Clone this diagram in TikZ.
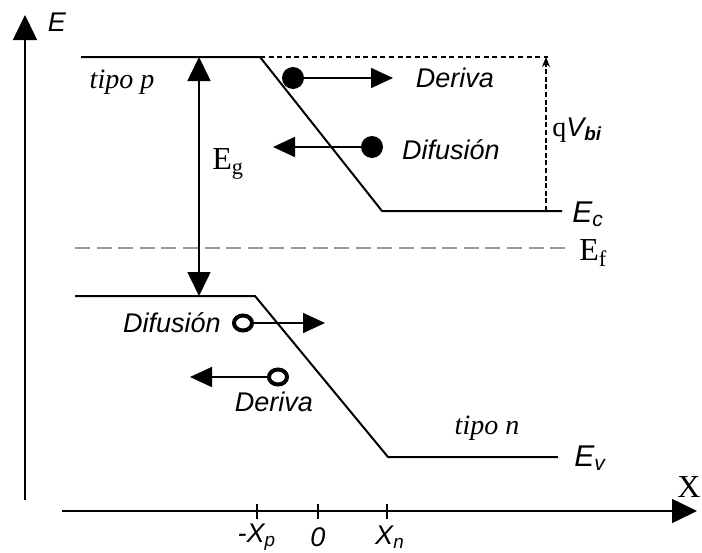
\documentclass[tikz,border=0pt]{standalone}
\usepackage{fontspec}
\setmainfont{Liberation Serif}
\setsansfont{Liberation Sans}
\usepackage{tikz}
\usetikzlibrary{arrows.meta}
\usetikzlibrary{shapes.geometric}
\newcommand{\sfi}[1]{\fontsize{13.5}{16}\selectfont\sffamily\itshape #1}
\newcommand{\rmn}[1]{\fontsize{14}{16}\selectfont\rmfamily #1}

\begin{document}
\begin{tikzpicture}[x=0.5pt,y=-0.5pt]
\tikzstyle{every node}=[inner sep=0pt]
\tikzstyle{band}=[line width=1pt,line join=round]
\tikzstyle{axis}=[line width=0.8pt,-{Triangle[length=12.5pt,width=12pt]}]
\tikzstyle{carrier}=[line width=0.8pt,-{Triangle[length=11pt,width=10pt]}]
\tikzstyle{electron}=[circle,fill=black,minimum size=11pt]
\tikzstyle{hole}=[ellipse,draw,line width=2pt,minimum width=9pt,minimum height=7.5pt]
\useasboundingbox (0,0) rectangle (702,552);
\coordinate (o) at (25,500);
\coordinate (etop) at (25,15);
\coordinate (xl) at (62,511);
\coordinate (xr) at (697,511);
\draw[axis] (o) -- (etop);
\draw[axis] (xl) -- (xr);
\node (elab) at (57,22) {\sfi{E}};
\node (xlab) at (689,487) {\fontsize{16}{18}\selectfont X};
\foreach \name/\x in {xp/257,zero/318,xn/387}{
  \coordinate (\name) at (\x,511);
  \draw[line width=0.8pt] ([yshift=-4pt]\name) -- ([yshift=3.5pt]\name);
}
\node at (257,537) {\sfi{-X\textsubscript{p}}};
\node at (318,537) {\sfi{0}};
\node at (390,537) {\sfi{X\textsubscript{n}}};
\coordinate (c0) at (81,57);
\coordinate (c1) at (260,57);
\coordinate (c2) at (382,211);
\coordinate (c3) at (562,211);
\draw[band] (c0) -- (c1) -- (c2) -- (c3);
\coordinate (v0) at (75,296);
\coordinate (v1) at (255,296);
\coordinate (v2) at (388,457);
\coordinate (v3) at (558,457);
\draw[band] (v0) -- (v1) -- (v2) -- (v3);
\coordinate (f0) at (75,248);
\coordinate (f1) at (565,248);
\draw[gray!80,line width=1.3pt,dash pattern=on 7.5pt off 3.3pt] (f0) -- (f1);
\coordinate (vb0) at (548,57);
\coordinate (vb1) at (546,211);
\coordinate (vb2) at (546,57);
\draw[line width=0.6pt,dash pattern=on 2.5pt off 1.8pt] (c1) -- (vb0);
\draw[line width=0.6pt,dash pattern=on 2.5pt off 1.3pt,-{Stealth[length=5pt,width=4pt]}] (vb1) -- (vb2);
\node[anchor=west] (vbi) at (552,130) {\rmn{q}\sfi{V\textsubscript{\bfseries bi}}};
\coordinate (g0) at (199,57);
\coordinate (g1) at (199,296);
\draw[line width=0.8pt,{Triangle[length=12pt,width=11.5pt]}-{Triangle[length=12pt,width=11.5pt]}] (g1) -- (g0);
\node[anchor=west] (eg) at (212,164) {\fontsize{16}{18}\selectfont E\textsubscript{g}};
\node[anchor=west] (ec) at (572,214) {\fontsize{15}{17}\selectfont\sffamily\itshape E\textsubscript{c}};
\node[anchor=west] (ef) at (579,253) {\fontsize{16}{18}\selectfont E\textsubscript{f}};
\node[anchor=west] (ev) at (574,458) {\fontsize{15}{17}\selectfont\sffamily\itshape E\textsubscript{v}};
\node (tp) at (122,82) {\rmn{\itshape tipo p}};
\node (tn) at (487,428) {\rmn{\itshape tipo n}};
\node[electron] (e1) at (293,78) {};
\coordinate (e1t) at (393,78);
\draw[carrier] (e1) -- (e1t);
\node (d1) at (455,78) {\sfi{Deriva}};
\node[electron] (e2) at (372,147) {};
\coordinate (e2t) at (273,147);
\draw[carrier] (e2) -- (e2t);
\node (f2) at (451,150) {\sfi{Difusión}};
\node[hole] (h1) at (243,323) {};
\coordinate (h1t) at (325,323);
\draw[carrier] (h1) -- (h1t);
\node (f3) at (172,323) {\sfi{Difusión}};
\node[hole] (h2) at (278,377) {};
\coordinate (h2t) at (190,377);
\draw[carrier] (h2) -- (h2t);
\node (d2) at (274,402) {\sfi{Deriva}};
\end{tikzpicture}
\end{document}
